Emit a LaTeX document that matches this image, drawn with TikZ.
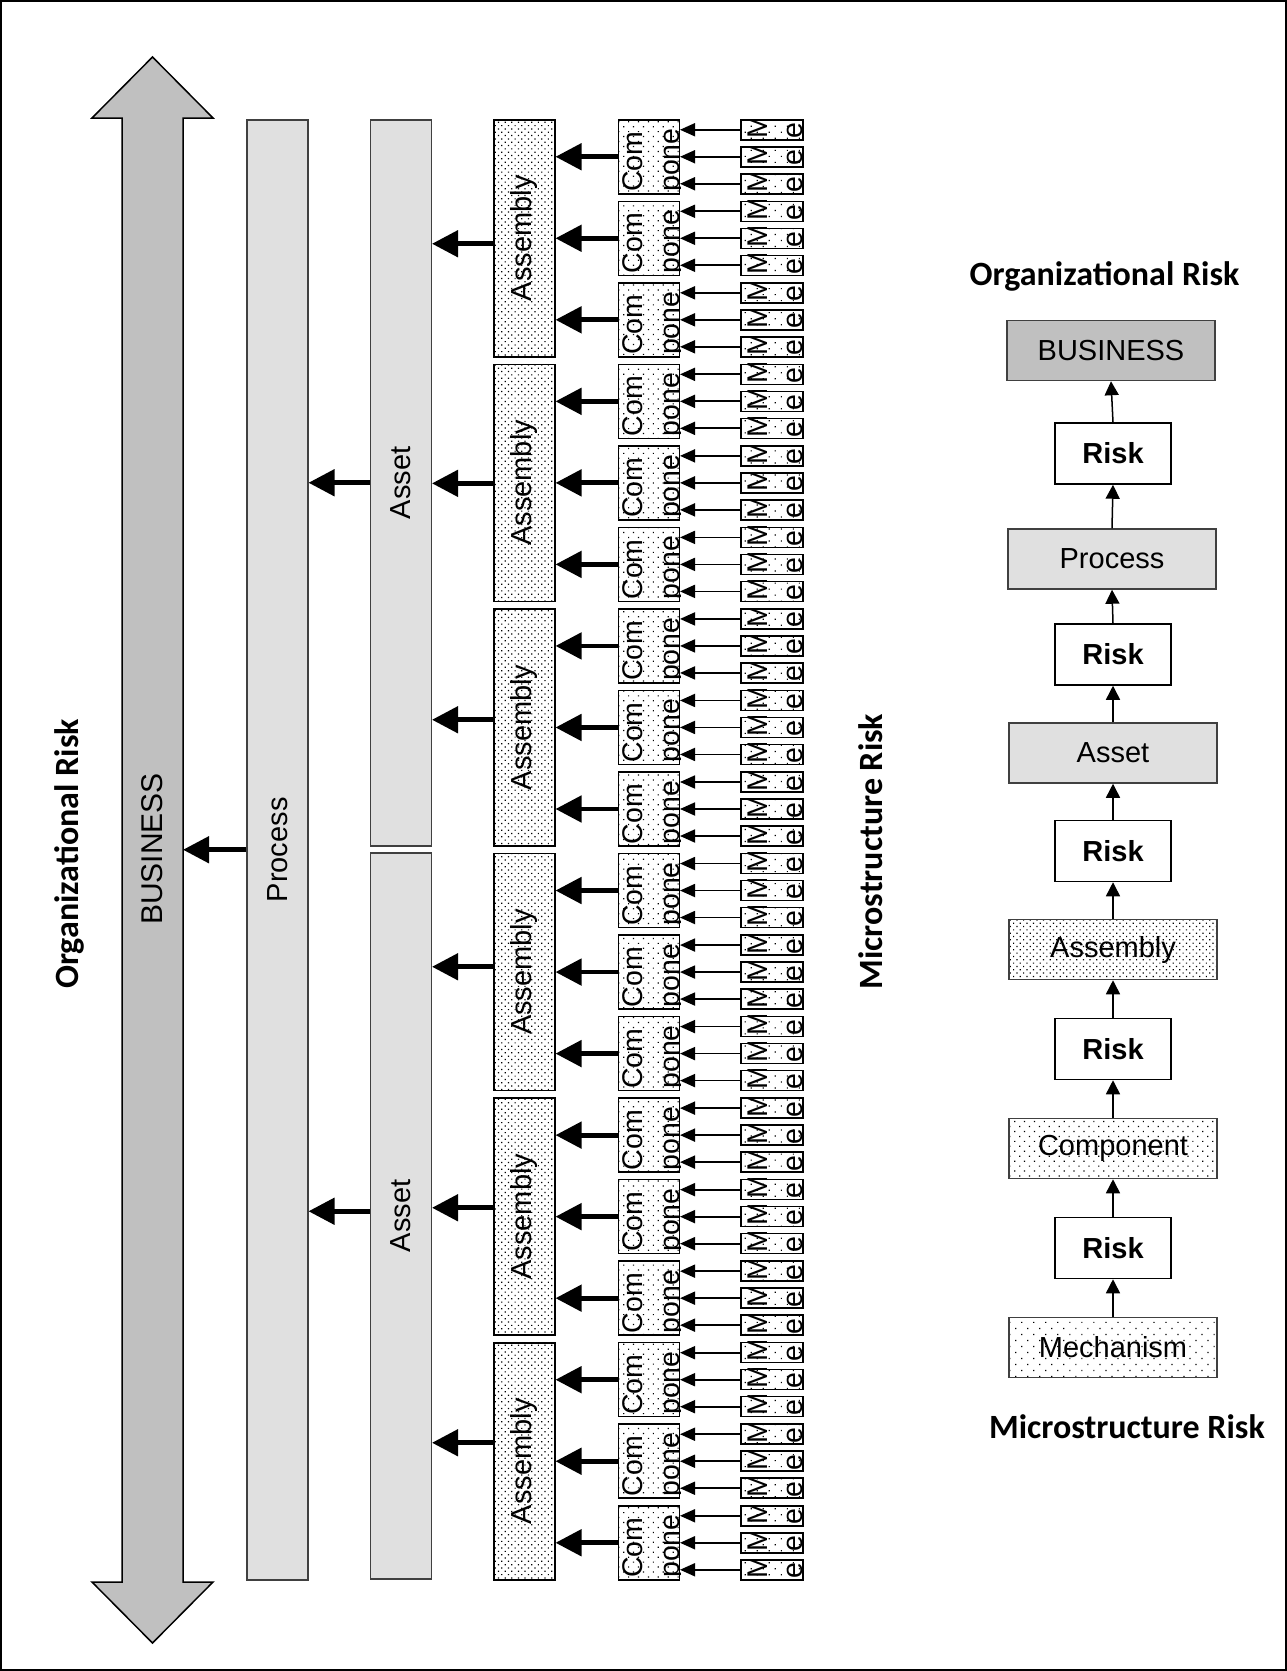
\documentclass[tikz,border=0pt]{standalone}
\usepackage{fontspec}
\setmainfont{Liberation Sans}
\newfontfamily\calib{Carlito}
\usetikzlibrary{arrows.meta,patterns.meta}
\definecolor{bizgray}{HTML}{C0C0C0}
\definecolor{lightgraytwo}{HTML}{E0E0E0}
\definecolor{edgegray}{HTML}{404040}
\tikzset{
  lbl/.style={font=\fontsize{29}{33}\selectfont, inner sep=0pt},
  smalltxt/.style={font=\fontsize{28.5}{32}\selectfont, inner sep=0pt, rotate=90, anchor=base west},
  ttl/.style={font=\calib\bfseries\fontsize{34}{40}\selectfont, inner sep=0pt, anchor=base},
  heavyarr/.style={line width=4.8pt,-{Triangle[length=26pt,width=26pt]}},
  thinarr/.style={line width=1.8pt,-{Triangle[length=15pt,width=13pt]}},
  stackarr/.style={line width=1.5pt,-{Triangle[length=14pt,width=14pt]}},
  boxbase/.style={inner sep=0pt, draw=black, line width=1.5pt},
  dense/.style={boxbase, preaction={fill=white}, pattern={Dots[distance=4.7pt,radius=0.85pt,angle=45]}},
  medium/.style={boxbase, preaction={fill=white}, pattern={Dots[distance=7pt,radius=0.85pt,angle=45]}},
  sparse/.style={boxbase, preaction={fill=white}, pattern={Dots[distance=8.5pt,radius=0.85pt,angle=45]}},
  graybox/.style={inner sep=0pt, fill=lightgraytwo, draw=edgegray, line width=1.5pt},
  rbox/.style={inner sep=0pt, minimum width=208pt, minimum height=60pt, draw=edgegray, line width=1.5pt, font=\fontsize{29}{33}\selectfont},
  riskbox/.style={inner sep=0pt, minimum width=116pt, minimum height=61pt, draw=black, fill=white, line width=1.5pt, font=\bfseries\fontsize{29}{33}\selectfont},
}
\begin{document}
\begin{tikzpicture}[x=1pt,y=-1pt]
\useasboundingbox (0,0) rectangle (1287,1671);
\draw[line width=1.5pt] (1,1) rectangle (1286,1670);

% big double arrow
\draw[fill=bizgray, line width=1.5pt, line join=miter]
  (152.5,57) -- (213,118) -- (183,118) -- (183,1582) -- (213,1582) -- (152.5,1643)
  -- (92,1582) -- (122,1582) -- (122,118) -- (92,118) -- cycle;
\node[lbl, font=\fontsize{30}{34}\selectfont, rotate=90] (biz) at (152.5,849) {BUSINESS};
\coordinate (bizR) at (183,849);

% process and assets
\node[graybox, minimum width=61pt, minimum height=1460pt, anchor=north west] (proc) at (246,119) {};
\node[lbl, rotate=90] (proctxt) at (proc.center) {Process};
\node[graybox, minimum width=61pt, minimum height=726pt, anchor=north west] (s1) at (369.5,119) {};
\node[lbl, rotate=90] (s1txt) at (s1.center) {Asset};
\node[graybox, minimum width=61pt, minimum height=726pt, anchor=north west] (s2) at (369.5,852) {};
\node[lbl, rotate=90] (s2txt) at (s2.center) {Asset};

% assemblies
\foreach \i in {0,...,5}{
  \pgfmathsetmacro\ty{119+\i*244.6}
  \node[dense, minimum width=61pt, minimum height=237pt, anchor=north west] (a\i) at (493,\ty) {};
  \node[lbl, rotate=90] (at\i) at (a\i.center) {Assembly};
}

% components and mechanisms
\foreach \k in {0,...,17}{
  \pgfmathsetmacro\cy{119+\k*81.53}
  \pgfmathsetmacro\cb{\cy+73}
  \node[medium, minimum width=61pt, minimum height=74pt, anchor=north west] (c\k) at (617.5,\cy) {};
  \begin{scope}
    \clip (c\k.south west) rectangle (c\k.north east);
    \node[smalltxt] (cta\k) at (642,\cb) {Com};
    \node[smalltxt] (ctb\k) at (679,\cb) {pone};
  \end{scope}
  \foreach \j in {0,1,2}{
    \pgfmathsetmacro\my{\cy+\j*27}
    \pgfmathsetmacro\mb{\my+20}
    \node[sparse, minimum width=62pt, minimum height=20pt, anchor=north west] (m\k-\j) at (740,\my) {};
    \begin{scope}
      \clip (m\k-\j.south west) rectangle (m\k-\j.north east);
      \node[smalltxt] (mta\k-\j) at (767,\mb) {M};
      \node[smalltxt] (mtb\k-\j) at (802,\mb) {e};
    \end{scope}
    \draw[thinarr] (m\k-\j.west) -- (m\k-\j.west -| c\k.east);
  }
  \pgfmathtruncatemacro\aa{floor(\k/3)}
  \draw[heavyarr] (c\k.west) -- (c\k.west -| a\aa.east);
}

% assembly -> asset
\foreach \i/\dy in {0/-5.5,1/-0.5,2/7.7,3/5.3,4/8.9,5/18.5}{
  \pgfmathtruncatemacro\ss{\i<3 ? 1 : 2}
  \draw[heavyarr] ([yshift=\dy pt]a\i.west) -- ([yshift=\dy pt]a\i.west -| s\ss.east);
}
% asset -> process
\draw[heavyarr] (s1.west) -- (s1.west -| proc.east);
\draw[heavyarr] ([yshift=4.5pt]s2.west) -- ([yshift=4.5pt]s2.west -| proc.east);
% process -> business
\draw[heavyarr] (proc.west) -- (proc.west -| bizR);

% vertical titles
\node[ttl, rotate=90] (tleft) at (78,854) {Organizational Risk};
\node[ttl, rotate=90] (tmid) at (882,851.5) {Microstructure Risk};

% right stack
\node[ttl] (ttop) at (1104.5,285) {Organizational Risk};
\node[rbox, fill=bizgray] (rbiz) at (1111,350.5) {BUSINESS};
\node[riskbox] (r1) at (1113,453.5) {Risk};
\node[rbox, fill=lightgraytwo] (rproc) at (1112,559) {Process};
\node[riskbox] (r2) at (1113,654.5) {Risk};
\node[rbox, fill=lightgraytwo] (rasset) at (1113,753) {Asset};
\node[riskbox] (r3) at (1113,851) {Risk};
\node[rbox, dense, draw=edgegray] (rasm) at (1113,949.5) {Assembly};
\node[riskbox] (r4) at (1113,1049) {Risk};
\node[rbox, medium, draw=edgegray] (rcomp) at (1113,1148.5) {Component};
\node[riskbox] (r5) at (1113,1248) {Risk};
\node[rbox, sparse, draw=edgegray] (rmech) at (1113,1347.5) {Mechanism};
\node[ttl] (tbot) at (1127,1438) {Microstructure Risk};

\draw[stackarr] (r1.north) -- (rbiz.south);
\draw[stackarr] (rproc.north) -- (r1.south);
\draw[stackarr] (r2.north) -- (rproc.south);
\draw[stackarr] (rasset.north) -- (r2.south);
\draw[stackarr] (r3.north) -- (rasset.south);
\draw[stackarr] (rasm.north) -- (r3.south);
\draw[stackarr] (r4.north) -- (rasm.south);
\draw[stackarr] (rcomp.north) -- (r4.south);
\draw[stackarr] (r5.north) -- (rcomp.south);
\draw[stackarr] (rmech.north) -- (r5.south);
\end{tikzpicture}
\end{document}
